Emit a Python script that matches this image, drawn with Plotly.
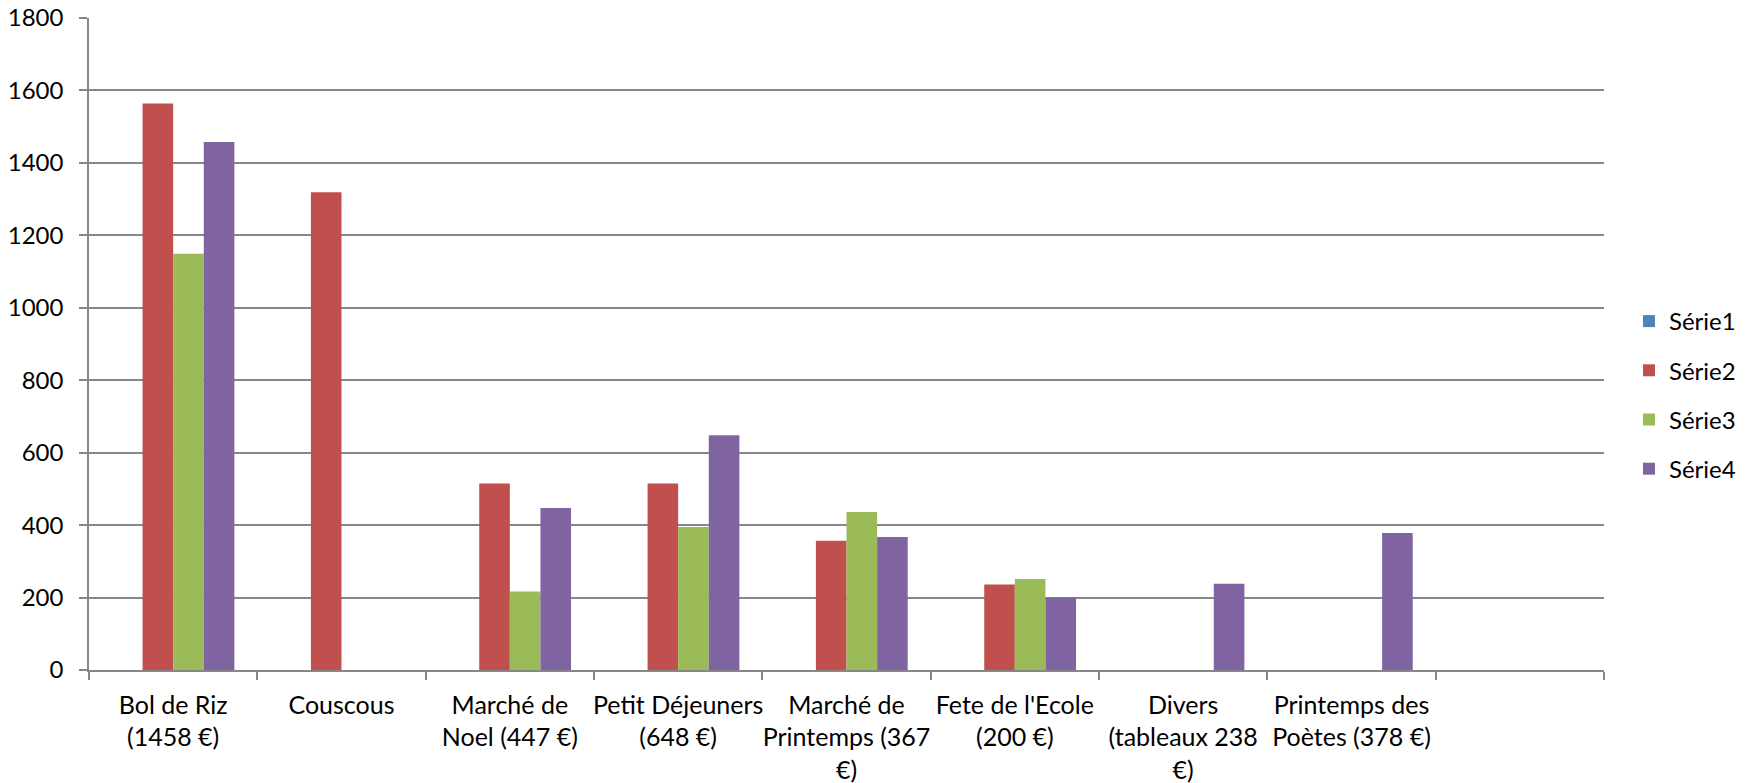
import plotly.graph_objects as go

categories = [
    "Bol de Riz<br>(1458 €)",
    "Couscous",
    "Marché de<br>Noel (447 €)",
    "Petit Déjeuners<br>(648 €)",
    "Marché de<br>Printemps (367<br>€)",
    "Fete de l'Ecole<br>(200 €)",
    "Divers<br>(tableaux 238<br>€)",
    "Printemps des<br>Poètes (378 €)",
    " ",
]

serie1 = [None, None, None, None, None, None, None, None, None]
serie2 = [1564, 1319, 515, 515, 357, 236, None, None, None]
serie3 = [1149, None, 217, 395, 436, 251, None, None, None]
serie4 = [1458, None, 447, 648, 367, 200, 238, 378, None]

series_names = ["Série1", "Série2", "Série3", "Série4"]
series_values = [serie1, serie2, serie3, serie4]
series_colors = ["#4F81BD", "#C0504D", "#9BBB59", "#8064A2"]

FONT = "Lato"
GRID = "#878787"

fig = go.Figure()
for name, vals, col in zip(series_names, series_values, series_colors):
    fig.add_trace(go.Bar(
        x=categories, y=vals, name=name,
        marker=dict(color=col, line=dict(width=0)),
        legendgroup=name,
    ))

fig.update_layout(
    width=1753, height=783,
    barmode="group", bargap=0.2727, bargroupgap=0,
    plot_bgcolor="white", paper_bgcolor="white",
    margin=dict(l=89, r=149, t=18, b=113, autoexpand=False),
    font=dict(family=FONT, size=24, color="black"),
    legend=dict(
        x=1.0165, xanchor="left", y=0.4218, yanchor="middle",
        font=dict(family=FONT, size=24, color="black"),
        tracegroupgap=15, bgcolor="rgba(0,0,0,0)",
    ),
    showlegend=True,
)

fig.update_xaxes(
    type="category", categoryorder="array", categoryarray=categories,
    tickson="boundaries", ticks="outside", ticklen=8, tickwidth=1.5, tickcolor=GRID,
    showline=True, linecolor=GRID, linewidth=1.5,
    showgrid=False, tickangle=0, range=[-0.5, 8.5],
    ticklabelstandoff=12, ticklabeloverflow="allow",
    tickfont=dict(family=FONT, size=25, color="black"),
)
fig.update_yaxes(
    range=[0, 1800], dtick=200, tick0=0,
    ticks="outside", ticklen=8, tickwidth=1.5, tickcolor=GRID,
    showline=True, linecolor=GRID, linewidth=1.5,
    showgrid=True, gridcolor=GRID, gridwidth=1.5,
    zeroline=False, ticklabelstandoff=11, ticklabeloverflow="allow",
    tickfont=dict(family=FONT, size=24, color="black"),
)

fig.write_html(
    "out.html",
    config={"displayModeBar": False},
    post_script="document.body.style.margin='0';document.body.style.overflow='hidden';",
)
